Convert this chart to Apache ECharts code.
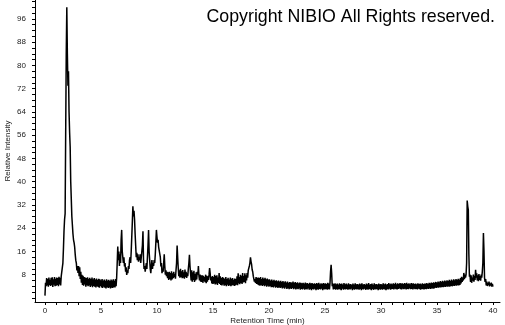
<!DOCTYPE html>
<html><head><meta charset="utf-8">
<script src="https://cdn.jsdelivr.net/npm/echarts@6/dist/echarts.min.js"></script>
<style>html,body{margin:0;padding:0;background:#fff}#c{width:505px;height:325px}</style>
</head><body><div id="c"></div>
<script>
const titleText = 'Copyright NIBIO All Rights reserved.';
const xAxisName = 'Retention Time (min)';
const yAxisName = 'Relative Intensity';
const xTickLabels = [0, 5, 10, 15, 20, 25, 30, 35, 40];
const yTickLabels = [8, 16, 24, 32, 40, 48, 56, 64, 72, 80, 88, 96];
// sampling grid of the trace (minutes)
const sampleStart = 0;
const sampleStep = 0.05;
// relative intensity, 20 samples per minute
// t = 0.00 .. 9.95
const intensityA = [
  0.8, 5.2, 4.0, 6.8, 4.3, 6.5, 3.9, 7.0, 4.5, 6.2, 4.1, 6.9, 4.4, 7.1, 3.8, 6.4, 4.6, 7.2, 4.0, 6.6,
  4.2, 7.0, 4.5, 6.8, 4.0, 7.3, 4.6, 6.9, 4.3, 7.4, 7.6, 8, 12, 17, 23, 27, 29, 57, 84, 100,
  84, 73, 78, 64, 57, 52, 40, 34, 28, 25, 22, 20, 19, 17.6, 15, 13, 12, 9.5, 11, 8.6,
  11, 7.5, 10.5, 6.5, 9, 5.2, 8, 4.5, 7.6, 4.2, 7.2, 4.6, 7.0, 3.9, 6.8, 4.4, 7.1, 4.0, 6.6, 4.3,
  6.9, 3.8, 6.5, 4.2, 7.0, 3.7, 6.4, 4.1, 6.8, 3.9, 6.3, 3.6, 6.7, 4.0, 6.2, 3.8, 6.6, 3.5, 6.4, 4.1,
  6.1, 3.6, 6.5, 3.4, 6.0, 3.9, 6.3, 3.5, 5.9, 3.3, 6.4, 3.7, 6.0, 3.4, 6.2, 3.6, 5.8, 3.3, 6.3, 3.5,
  6.0, 3.4, 6.4, 3.7, 5.9, 3.6, 6.5, 4.0, 7.0, 12, 17.7, 13, 16, 11, 15, 12, 20, 23.4, 16, 14,
  12, 14, 10.8, 12, 9, 10.5, 7.9, 9.5, 8.5, 11, 10, 13, 14, 12, 16, 21, 26, 31.5, 28, 30,
  27, 22, 18, 14, 15.5, 13, 15, 12.5, 14, 13, 15, 12, 14, 16, 18, 22.9, 13, 10, 11, 9,
  9, 12, 10, 14, 18, 23.4, 16, 13, 10, 8.5, 11, 13, 10, 12, 11, 13, 12, 15, 19, 23.4
];
// t = 10.00 .. 19.95
const intensityB = [
  21, 19, 20, 17.5, 18, 17, 14, 10.8, 12, 8.5, 10, 9, 12, 15, 11, 8, 9.5, 7.5, 9, 6.8,
  8.8, 6.2, 9, 6.5, 8.6, 6.0, 9.2, 6.4, 8.5, 6.8, 9, 7.2, 8.2, 6.6, 9.5, 12, 18, 14, 10.3, 7.5,
  9.5, 7, 10, 7.2, 9.2, 6.8, 9.6, 7, 8.8, 6.6, 9.8, 7.2, 9, 6.9, 8.5, 7.5, 10, 12, 14.8, 11,
  8.5, 6, 9.5, 5.6, 8.8, 6.2, 9.3, 5.5, 8.2, 6, 8.8, 6.4, 9, 8, 11, 7.5, 6, 8, 5.6, 7.8,
  5.5, 7.8, 5.2, 7.6, 5.8, 7.2, 5.4, 8, 5.1, 7.6, 5.6, 7.4, 6.2, 8, 10.3, 8.5, 6, 7.2, 5, 7.5,
  4.8, 7.2, 5, 8, 4.6, 7.5, 4.9, 7.8, 4.5, 7, 5.2, 8.6, 4.8, 7.4, 4.5, 6.8, 4.3, 7.2, 4.6, 6.9,
  4.2, 6.6, 4.4, 7.2, 4.0, 6.5, 4.6, 6.9, 4.1, 6.3, 4.4, 7.0, 4.0, 6.6, 4.3, 6.8, 4.5, 6.2, 4.1, 6.7,
  4.3, 6.5, 4.6, 7.4, 4.4, 8.5, 5, 7.2, 4.7, 8, 5.2, 7.6, 4.8, 8.6, 5.3, 7.5, 5.5, 8.5, 5.1, 7.8,
  6, 8.6, 7, 9.5, 9, 11, 12, 14, 12.5, 11.5, 9.7, 9, 7.5, 7, 5.6, 6.5, 5.2, 7.2, 4.8, 6.9,
  4.6, 7, 4.4, 6.8, 4.2, 7.2, 4.5, 6.5, 4.1, 7.0, 4.4, 6.6, 4.0, 6.9, 4.3, 6.4, 3.9, 6.7, 4.2, 6.3
];
// t = 20.00 .. 29.95
const intensityC = [
  3.9, 6.4, 4.1, 6.0, 3.7, 6.3, 3.8, 5.9, 3.6, 6.2, 4.0, 5.8, 3.5, 6.1, 3.8, 5.7, 3.4, 6.0, 3.7, 5.6,
  3.4, 5.9, 3.6, 5.5, 3.3, 5.8, 3.5, 5.4, 3.2, 5.7, 3.6, 5.3, 3.1, 5.6, 3.4, 5.2, 3.0, 5.5, 3.3, 5.4,
  3.1, 5.3, 3.4, 5.6, 3.0, 5.2, 3.3, 5.5, 2.9, 5.1, 3.2, 5.4, 3.0, 5.0, 3.3, 5.3, 2.8, 5.2, 3.1, 5.0,
  2.9, 5.2, 3.2, 4.9, 2.8, 5.3, 3.1, 5.0, 2.9, 5.1, 3.3, 4.8, 2.8, 5.2, 3.0, 4.9, 2.7, 5.1, 3.1, 4.8,
  2.9, 5.0, 3.2, 4.8, 2.7, 5.1, 3.0, 4.9, 2.8, 5.2, 3.1, 4.7, 2.9, 5.0, 3.2, 4.8, 2.7, 5.1, 3.0, 4.9,
  2.9, 5.0, 3.1, 4.8, 2.8, 5.2, 3.0, 4.9, 2.9, 5.1, 9, 11.4, 8.5, 4, 5, 2.9, 4.8, 3.1, 5.0, 2.8,
  4.7, 3.0, 4.9, 2.8, 4.6, 3.1, 5.0, 2.9, 4.8, 2.7, 4.9, 3.2, 4.6, 2.8, 5.1, 3.0, 4.7, 2.9, 4.9, 3.1,
  4.6, 2.8, 5.0, 3.0, 4.7, 2.9, 4.8, 3.2, 4.5, 2.7, 4.9, 3.0, 4.6, 2.8, 5.0, 3.1, 4.7, 2.9, 4.8, 3.0,
  4.6, 2.8, 4.9, 3.1, 4.7, 2.7, 5.0, 3.0, 4.6, 2.9, 4.8, 3.2, 4.5, 2.8, 4.9, 3.0, 4.7, 2.8, 5.1, 3.1,
  4.6, 2.9, 4.8, 2.7, 4.9, 3.1, 4.5, 2.8, 5.0, 3.0, 4.7, 2.9, 4.8, 3.1, 4.6, 2.7, 4.9, 3.0, 4.7, 2.8
];
// t = 30.00 .. 40.00
const intensityD = [
  4.8, 3.0, 4.6, 2.8, 5.0, 3.1, 4.7, 2.9, 4.9, 2.7, 4.6, 3.0, 4.8, 2.9, 5.1, 3.2, 4.7, 2.8, 4.9, 3.0,
  4.7, 3.1, 5.0, 2.9, 4.8, 3.2, 5.2, 3.0, 4.7, 2.9, 5.0, 3.1, 4.8, 3.3, 5.1, 3.0, 4.9, 2.9, 5.0, 3.2,
  4.8, 3.0, 5.1, 3.2, 4.9, 2.9, 5.2, 3.1, 4.8, 3.0, 5.0, 3.3, 4.7, 3.0, 5.1, 3.1, 4.9, 2.9, 5.0, 3.2,
  4.8, 3.0, 4.9, 3.1, 4.7, 2.9, 5.0, 3.2, 4.8, 3.0, 4.9, 2.8, 4.7, 3.1, 5.0, 3.0, 4.8, 2.9, 4.9, 3.1,
  4.9, 3.0, 5.1, 3.2, 4.8, 3.1, 5.2, 3.3, 5.0, 3.1, 5.3, 3.4, 5.1, 3.2, 5.4, 3.3, 5.2, 3.5, 5.5, 3.4,
  5.3, 3.6, 5.6, 3.5, 5.4, 3.7, 5.8, 3.6, 5.5, 3.8, 5.9, 3.7, 5.6, 3.9, 6.0, 3.8, 5.7, 4.0, 6.1, 3.9,
  5.8, 4.0, 6.2, 3.9, 5.9, 4.1, 6.3, 4.0, 6.0, 4.2, 6.4, 4.1, 6.1, 4.3, 6.5, 4.2, 6.2, 4.4, 6.6, 4.3,
  6.3, 4.5, 6.8, 5, 7.3, 5.5, 7, 6, 8.6, 6.5, 8, 7, 8, 12, 33.5, 31.5, 30.3, 15, 7.3, 8,
  5.5, 7.8, 5.2, 7, 6, 8, 5.6, 7.5, 6.2, 9.7, 7, 8.5, 6, 7.8, 5.8, 8.2, 6.2, 7.5, 5.9, 8,
  7, 9, 12, 22.3, 16, 6.8, 5.5, 6.5, 4.3, 5.6, 4.1, 5.2, 4.4, 5.6, 4.0, 5.0, 4.3, 5.3, 3.9, 4.8,
  3.9
];

const intensity = intensityA.concat(intensityB, intensityC, intensityD);
const traceData = intensity.map((v, i) => [+(sampleStart + i * sampleStep).toFixed(2), v]);

const xTickPositions = [];
for (let t = 0; t <= 40; t += 1) xTickPositions.push(t);
const yTickPositions = [];
for (let v = 0; v <= 102; v += 2) yTickPositions.push(v);

const FONT = 'Liberation Sans, Arial, sans-serif';
const chart = echarts.init(document.getElementById('c'), null, { renderer: 'canvas' });
chart.setOption({
  animation: false,
  backgroundColor: '#fff',
  title: {
    text: titleText,
    right: 5,
    top: 3,
    textStyle: { fontSize: 17.8, fontWeight: 'normal', color: '#000', fontFamily: FONT }
  },
  grid: { left: 35, right: 5, top: 0, bottom: 23, containLabel: false, outerBoundsMode: 'none' },
  xAxis: {
    type: 'value',
    min: -0.89,
    max: 40.63,
    name: xAxisName,
    nameLocation: 'middle',
    nameGap: 15,
    nameMoveOverlap: false,
    nameTextStyle: { fontSize: 8, color: '#222', fontFamily: FONT },
    axisLine: { show: true, onZero: false, lineStyle: { color: '#000', width: 1 } },
    axisTick: { show: true, customValues: xTickPositions, length: 3, inside: false, lineStyle: { color: '#000' } },
    axisLabel: { customValues: xTickLabels, fontSize: 8, color: '#222', margin: 5, fontFamily: FONT },
    splitLine: { show: false }
  },
  yAxis: {
    type: 'value',
    min: -1.4,
    max: 102.5,
    name: yAxisName,
    nameLocation: 'middle',
    nameGap: 23,
    nameMoveOverlap: false,
    nameTextStyle: { fontSize: 8, color: '#222', fontFamily: FONT },
    axisLine: { show: true, onZero: false, lineStyle: { color: '#000', width: 1 } },
    axisTick: { show: true, customValues: yTickPositions, length: 3, inside: false, lineStyle: { color: '#000' } },
    axisLabel: { customValues: yTickLabels, fontSize: 8, color: '#222', margin: 9, fontFamily: FONT },
    splitLine: { show: false }
  },
  series: [{
    type: 'line',
    data: traceData,
    showSymbol: false,
    symbol: 'none',
    sampling: null,
    lineStyle: { color: '#000', width: 1.5 },
    emphasis: { disabled: true }
  }]
});
</script>
</body></html>
